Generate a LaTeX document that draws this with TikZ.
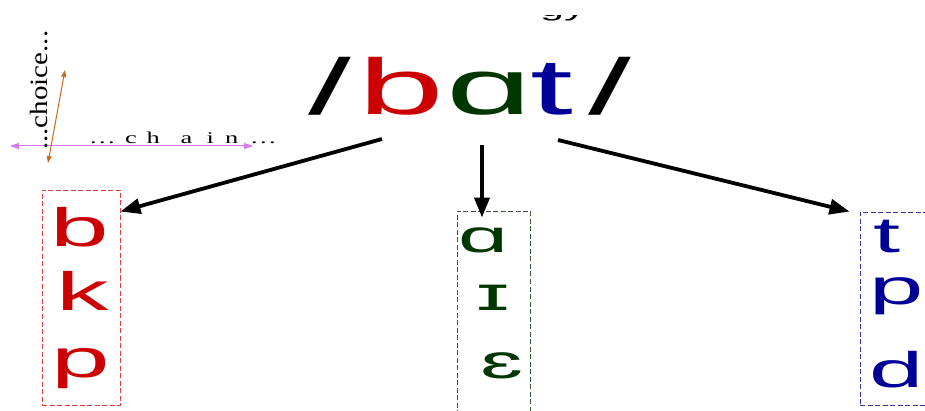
\documentclass[tikz,border=0pt]{standalone}
\usepackage{fontspec}
\setmainfont{Liberation Sans}
\newfontfamily\timesfont{Liberation Serif}
\usetikzlibrary{arrows.meta}

\definecolor{phred}{RGB}{204,0,0}
\definecolor{phgreen}{RGB}{0,55,0}
\definecolor{phblue}{RGB}{0,0,153}
\definecolor{boxred}{RGB}{222,60,60}
\definecolor{boxgreen}{RGB}{50,90,50}
\definecolor{boxblue}{RGB}{50,50,170}
\definecolor{chainpink}{RGB}{214,120,250}
\definecolor{choiceorange}{RGB}{205,105,30}

% wide lettering
\newcommand{\wide}[1]{\scalebox{1.95}[1]{#1}}
\newcommand{\fsz}[1]{\fontsize{#1}{#1}\selectfont}

\tikzset{
  glyph/.style={inner sep=0pt, anchor=base},
  slotbox/.style={draw, dashed, dash pattern=on 5pt off 2.5pt, line width=0.9pt, inner sep=0pt},
  bigarrow/.style={line width=3.8pt, -{Triangle[length=20pt,width=15pt]}},
  chainarrow/.style={chainpink, line width=1pt, {Triangle[length=9pt,width=6pt]}-{Triangle[length=9pt,width=6pt]}},
  choicearrow/.style={choiceorange, line width=1pt, {Triangle[length=7pt,width=5pt]}-{Triangle[length=7pt,width=5pt]}},
}

\begin{document}
\begin{tikzpicture}[x=1pt,y=-1pt]
\useasboundingbox (0,0) rectangle (925,411);

% heading cut at the top edge
\begin{scope}
  \clip (520,16) rectangle (610,30);
  \node[inner sep=0pt, anchor=base west] (heading) at (540,17) {\wide{\fsz{22}gy}};
\end{scope}

% the word
\node[inner sep=0pt, anchor=base west] (word) at (308,115)
  {\wide{\fsz{79}/\hspace{4pt}\textcolor{phred}{b}\hspace{1pt}\textcolor{phgreen}{ɑ}\hspace{-1pt}\textcolor{phblue}{t}\hspace{8pt}/}};

% paradigm boxes
\node[slotbox, boxred, minimum width=78pt, minimum height=215pt] (redbox) at (81,297.5) {};
\node[slotbox, boxgreen, minimum width=73pt, minimum height=210pt] (greenbox) at (493.5,316) {};
\node[slotbox, boxblue, minimum width=80pt, minimum height=193pt] (bluebox) at (900,308.5) {};

% first slot
\node[glyph, phred] (b1) at (80,247) {\wide{\fsz{54}b}};
\node[glyph, phred] (k1) at (83,310) {\wide{\fsz{54}k}};
\node[glyph, phred] (p1) at (81,377) {\wide{\fsz{54}p}};

% second slot
\node[glyph, phgreen] (a2) at (483,253) {\wide{\fsz{46}ɑ}};
\node[glyph, phgreen] (i2) at (493,310) {\wide{\fsz{48}ɪ}};
\node[glyph, phgreen] (e2) at (502,378) {\wide{\fsz{48}ɛ}};

% third slot
\node[glyph, phblue] (t3) at (887,253) {\wide{\fsz{50}t}};
\node[glyph, phblue] (p3) at (897,305) {\wide{\fsz{50}p}};
\node[glyph, phblue] (d3) at (897,387) {\wide{\fsz{50}d}};

% arrows from the word to each slot
\coordinate (s1) at (382,139);
\coordinate (s2) at (482,145);
\coordinate (s3) at (558,140);
\draw[bigarrow] (s1) -- ([yshift=-22pt]redbox.north east);
\draw[bigarrow] (s2) -- ([xshift=-11.5pt,yshift=-7pt]greenbox.north);
\draw[bigarrow] (s3) -- ([xshift=-10pt]bluebox.north west);

% axes: chain and choice
\coordinate (chainL) at (10,146);
\coordinate (chainR) at (253,146);
\draw[chainarrow] (chainL) -- (chainR);
\coordinate (choiceB) at (48,163);
\coordinate (choiceT) at (65,70);
\draw[choicearrow] (choiceB) -- (choiceT);

\node[inner sep=0pt, anchor=base west] (chain) at (90,144)
  {\scalebox{1.6}[1]{\timesfont\fsz{16.5}.\hspace{1.5pt}.\hspace{1.5pt}.\hspace{6.5pt}c\hspace{6pt}h\hspace{13pt}a\hspace{9pt}i\hspace{7pt}n\hspace{8pt}.\hspace{1.5pt}.\hspace{1.5pt}.}};
\node[inner sep=0pt, rotate=90, anchor=west] (choice) at (39,150)
  {\scalebox{1}[0.86]{\timesfont\fsz{29}...choice...}};

\end{tikzpicture}
\end{document}
